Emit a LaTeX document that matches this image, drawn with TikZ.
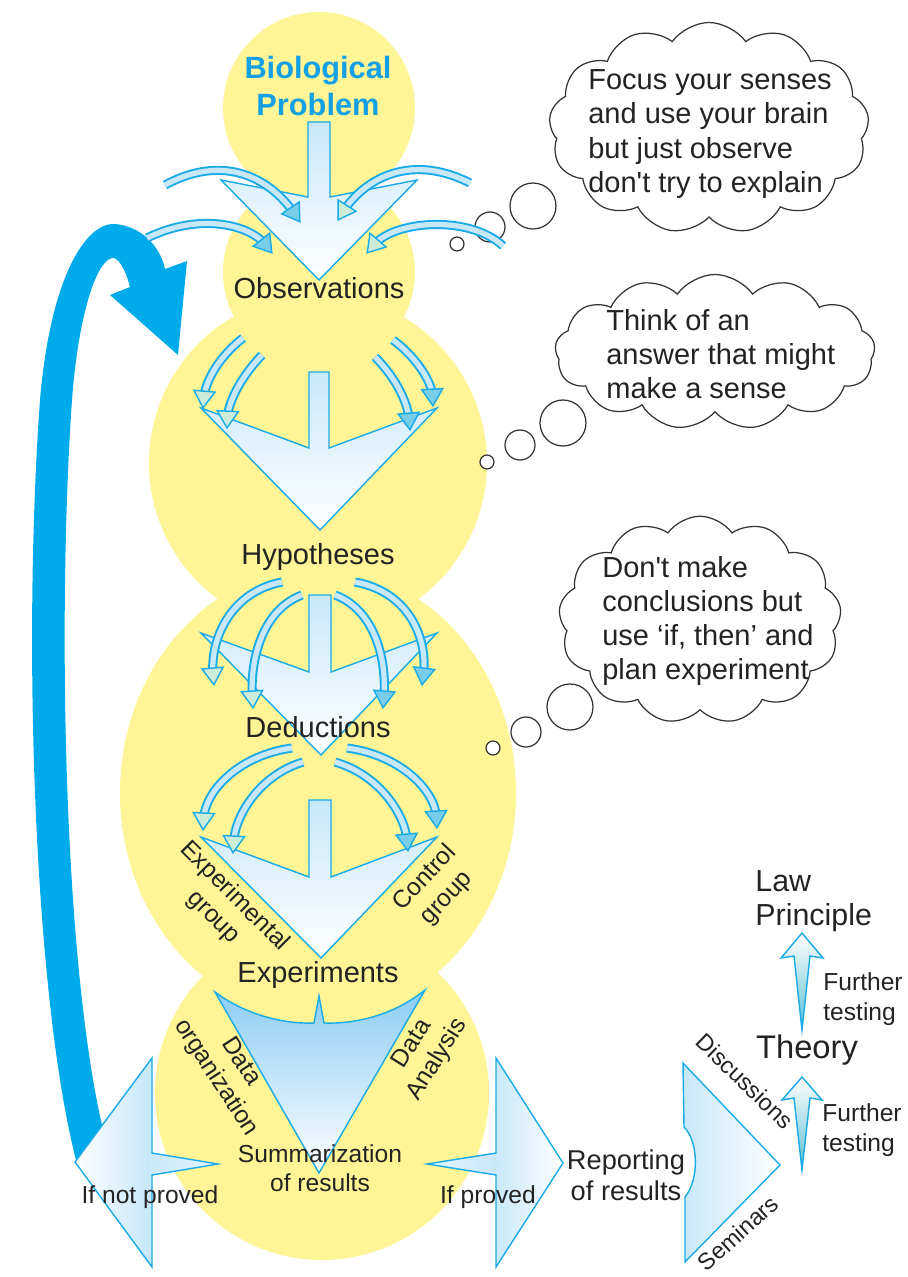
\documentclass[tikz,border=0pt]{standalone}
\usepackage{fontspec}
\setmainfont{Liberation Sans}
\usetikzlibrary{shapes.symbols,decorations.markings}

\definecolor{sunyellow}{RGB}{255,244,150}
\definecolor{loopblue}{RGB}{0,171,235}
\definecolor{edgeblue}{RGB}{25,170,232}
\definecolor{paleblue}{RGB}{200,232,250}
\definecolor{sideblue}{RGB}{140,205,245}
\definecolor{headblue}{RGB}{120,205,235}
\definecolor{headgreen}{RGB}{205,236,215}
\definecolor{tealtip}{RGB}{90,190,210}
\definecolor{titleblue}{RGB}{20,160,228}
\definecolor{inkgray}{RGB}{35,35,35}

\begin{document}
\begin{tikzpicture}[x=0.2mm,y=-0.2mm]

    \tikzset{
      word/.style={
        text=inkgray,
        font=\fontsize{16.5}{19.5}\selectfont,
        align=center,
        inner sep=0pt,
      },
      small/.style={
        text=inkgray,
        font=\fontsize{14}{16.8}\selectfont,
        align=center,
        inner sep=0pt,
      },
      outline/.style={draw=edgeblue, line width=0.8pt, line join=miter},
      chev/.style={outline, top color=paleblue, bottom color=white},
      bend/.style={
        draw=edgeblue,
        double=paleblue,
        double distance=3pt,
        line width=1.1pt,
        shorten >=6pt,
        postaction={decorate, decoration={markings,
          mark=at position 0.998 with {\filldraw[draw=edgeblue, fill=#1, line width=0.8pt,
            line join=miter, shorten >=0pt] (0pt,0pt) -- (-9.5pt,6pt) -- (-9.5pt,-6pt) -- cycle;}}},
      },
      bend/.default=headblue,
      thought/.style={
        cloud, cloud puffs=13, cloud puff arc=110, cloud ignores aspect,
        draw=black!80, fill=white, line width=0.7pt, inner sep=0pt,
      },
      bubble/.style={draw=black!80, fill=white, line width=0.7pt},
    }
    \useasboundingbox (0,0) rectangle (908,1277);

    % yellow discs
    \fill[sunyellow] (319,108) circle (96);
    \fill[sunyellow] (319,272) circle (96);
    \fill[sunyellow] (318,463) circle (169);
    \fill[sunyellow] (318,793) ellipse [x radius=198, y radius=225];
    \fill[sunyellow] (322,1093) circle (167);

    % loop back when not proved
    \fill[loopblue] (76,1160) .. controls (35,1000) and (22,650) .. (40,400)
      .. controls (50,280) and (85,222) .. (115,224)
      .. controls (140,226) and (160,245) .. (165,269)
      -- (187,261) -- (178,355) -- (110,295) -- (130,287)
      .. controls (125,268) and (118,257) .. (112,258)
      .. controls (95,262) and (78,320) .. (72,400)
      .. controls (58,600) and (62,950) .. (102,1125) -- cycle;

    % big arrows down the middle
    \draw[chev] (308,122) -- (308,197) -- (221,180) -- (319,280) -- (417,180) -- (330,197) -- (330,122) -- cycle;
    \draw[chev] (309,372) -- (309,448) -- (201,408) -- (320,530) -- (437,408) -- (329,448) -- (329,372) -- cycle;
    \draw[chev] (309,595) -- (309,672) -- (201,633) -- (321,755) -- (437,633) -- (331,672) -- (331,595) -- cycle;
    \draw[chev] (309,800) -- (309,877) -- (201,837) -- (321,958) -- (437,837) -- (331,877) -- (331,800) -- cycle;
    \draw[outline, top color=sideblue, middle color=white, bottom color=white]
      (215,992) .. controls (250,1018) and (290,1024) .. (314,1023) -- (319,996) -- (324,1023)
      .. controls (350,1024) and (390,1018) .. (425,990) -- (319,1173) -- cycle;

    % side arrows
    \draw[outline, left color=white, right color=paleblue!50!white, middle color=paleblue]
      (75,1162) -- (152,1058) -- (152,1153) -- (218,1164) -- (152,1175) -- (152,1267) -- cycle;
    \draw[outline, left color=paleblue!50!white, right color=white, middle color=paleblue]
      (563,1163) -- (496,1058) -- (496,1153) -- (427,1164) -- (496,1175) -- (496,1267) -- cycle;
    \draw[outline, left color=paleblue, right color=white]
      (683,1063) -- (780,1165) -- (685,1262) -- (685,1197)
      .. controls (699,1180) and (699,1142) .. (684,1127) -- cycle;
    \draw[outline, top color=white, bottom color=tealtip]
      (802,1077) -- (822,1100) -- (810,1098) -- (802,1170) -- (794,1098) -- (782,1100) -- cycle;
    \draw[outline, top color=white, bottom color=tealtip]
      (802,933) -- (823,958) -- (810,956) -- (802,1030) -- (794,956) -- (781,958) -- cycle;

    % thought clouds
    \node[thought, minimum width=64mm, minimum height=42.2mm] (cloudA) at (709,128) {};
    \node[thought, minimum width=64mm, minimum height=31mm] (cloudB) at (715,352) {};
    \node[thought, minimum width=56.5mm, minimum height=41.5mm] (cloudC) at (700,620) {};
    \draw[bubble] (533,206) circle (23);
    \draw[bubble] (490,227) circle (15);
    \draw[bubble] (457,244) circle (7);
    \draw[bubble] (563,423) circle (23);
    \draw[bubble] (520,445) circle (15);
    \draw[bubble] (487,462) circle (7);
    \draw[bubble] (570,707) circle (23);
    \draw[bubble] (526,732) circle (15);
    \draw[bubble] (493,748) circle (7);

    % small bent arrows
    \draw[bend] (165,185) .. controls (230,150) and (275,185) .. (300,222);
    \draw[bend=headgreen] (470,183) .. controls (405,150) and (360,185) .. (338,220);
    \draw[bend] (147,238) .. controls (200,212) and (250,225) .. (272,253);
    \draw[bend=headgreen] (503,246) .. controls (470,215) and (395,220) .. (367,253);

    \draw[bend=headgreen] (243,338) .. controls (215,360) and (205,385) .. (203,408);
    \draw[bend=headgreen] (262,355) .. controls (238,380) and (228,405) .. (227,428);
    \draw[bend] (393,340) .. controls (420,360) and (432,385) .. (433,406);
    \draw[bend] (375,357) .. controls (398,380) and (408,405) .. (410,430);

    \draw[bend=headgreen] (282,582) .. controls (230,592) and (210,640) .. (214,685);
    \draw[bend=headgreen] (302,595) .. controls (262,610) and (250,660) .. (253,708);
    \draw[bend] (355,582) .. controls (410,592) and (428,640) .. (422,685);
    \draw[bend] (335,595) .. controls (375,610) and (387,660) .. (383,708);

    \draw[bend=headgreen] (292,748) .. controls (240,755) and (205,790) .. (203,830);
    \draw[bend=headgreen] (303,762) .. controls (260,775) and (235,815) .. (233,853);
    \draw[bend] (347,748) .. controls (400,755) and (435,790) .. (437,828);
    \draw[bend] (335,762) .. controls (380,775) and (405,815) .. (408,851);

    % labels
    \node[word, text=titleblue, font=\bfseries\fontsize{17.5}{20.5}\selectfont] (problem) at (318,86) {Biological\\Problem};
    \node[word] (obs) at (319,288) {Observations};
    \node[word] (hyp) at (318,557) {Hypotheses};
    \node[word] (ded) at (318,727) {Deductions};
    \node[word] (exper) at (318,975) {Experiments};
    \node[small, rotate=-45] (expgroup) at (224,907) {Experimental\\group};
    \node[small, rotate=47] (ctrlgroup) at (436,888) {Control\\group};
    \node[small, rotate=-57] (dataorg) at (228,1070) {Data\\organization};
    \node[small, rotate=58] (dataan) at (425,1052) {Data\\Analysis};
    \node[small] (summary) at (320,1168) {Summarization\\of results};
    \node[small] (notproved) at (150,1197) {If not proved};
    \node[small] (proved) at (488,1197) {If proved};
    \node[word, font=\fontsize{15.5}{17.5}\selectfont] (report) at (626,1175) {Reporting\\of results};
    \node[small, font=\fontsize{13.3}{16}\selectfont, rotate=-44] (disc) at (745,1081) {Discussions};
    \node[small, font=\fontsize{13.3}{16}\selectfont, rotate=42] (semi) at (738,1233) {Seminars};
    \node[word, font=\fontsize{18.6}{21}\selectfont] (theory) at (807,1050) {Theory};
    \node[word, align=left, anchor=west, font=\fontsize{17.3}{19}\selectfont] (law) at (755,901) {Law\\Principle};
    \node[small, align=left, anchor=west] (testA) at (823,999) {Further\\testing};
    \node[small, align=left, anchor=west] (testB) at (822,1130) {Further\\testing};

    \node[word, align=left, anchor=west] (thinkA) at (588,134) {Focus your senses\\and use your brain\\but just observe\\don\textquotesingle t try to explain};
    \node[word, align=left, anchor=west] (thinkB) at (606,354) {Think of an\\answer that might\\make a sense};
    \node[word, align=left, anchor=west] (thinkC) at (602,621) {Don\textquotesingle t make\\conclusions but\\use `if, then' and\\plan experiment};

\end{tikzpicture}
\end{document}
